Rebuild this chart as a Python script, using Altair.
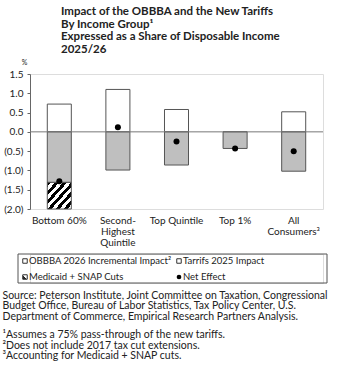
import altair as alt
import pandas as pd

# ---- data ----
categories = ["Bottom 60%", "Second-\nHighest\nQuintile", "Top Quintile", "Top 1%", "All\nConsumers³"]
obbba = [0.72, 1.10, 0.58, 0.00, 0.52]
tariffs = [-1.31, -0.99, -0.86, -0.43, -1.02]
medicaid = [-0.69, 0.0, 0.0, 0.0, 0.0]
net_effect = [-1.28, 0.12, -0.25, -0.43, -0.50]
y_ticks = [-2.0, -1.5, -1.0, -0.5, 0.0, 0.5, 1.0, 1.5]

legend_labels = ["OBBBA 2026 Incremental Impact²", "Tarrifs 2025 Impact", "Medicaid + SNAP Cuts", "Net Effect"]
legend_cols = [0, 1, 0, 1]
legend_rows = [0, 0, 1, 1]
legend_kind = ["obbba", "tariff", "medicaid", "net"]

title_lines = ["Impact of the OBBBA and the New Tariffs", "By Income Group¹",
               "Expressed as a Share of Disposable Income", "2025/26"]
source_lines = ["Source: Peterson Institute, Joint Committee on Taxation, Congressional",
                "Budget Office, Bureau of Labor Statistics, Tax Policy Center, U.S.",
                "Department of Commerce, Empirical Research Partners Analysis."]
footnote_lines = ["¹Assumes a 75% pass-through of the new tariffs.",
                  "²Does not include 2017 tax cut extensions.",
                  "³Accounting for Medicaid + SNAP cuts."]

FONT = "Lato"
TXT = "#222222"

df = pd.DataFrame({
    "cat": categories,
    "obbba": obbba,
    "tariffs": tariffs,
    "medicaid": medicaid,
    "net": net_effect,
})
df["zero"] = 0.0
df["med_lo"] = df["tariffs"] + df["medicaid"]
df_med = df[df["medicaid"] != 0]

N = 6
stops = []
for k in range(N):
    stops += [
        {"offset": k / N, "color": "black"},
        {"offset": (k + 0.5) / N, "color": "black"},
        {"offset": (k + 0.5) / N, "color": "white"},
        {"offset": (k + 1) / N, "color": "white"},
    ]
hatch = {"gradient": "linear", "x1": 0, "y1": 0, "x2": 1, "y2": 1, "stops": stops}

xenc = alt.X("cat:N", sort=categories,
             scale=alt.Scale(paddingInner=0.59, paddingOuter=0.295),
             axis=alt.Axis(title=None, labelAngle=0, domain=False, ticks=False,
                           labelExpr="split(datum.label, '\\n')", labelLineHeight=11,
                           labelPadding=6, labelFontSize=10, labelFont=FONT,
                           labelColor=TXT, labelBaseline="top"))
yscale = alt.Scale(domain=[-2.0, 1.5], nice=False, zero=False)
yaxis = alt.Axis(values=y_ticks,
                 labelExpr="datum.value < 0 ? '(' + format(-datum.value, '.1f') + ')' : format(datum.value, '.1f')",
                 labelOverlap=False, labelFlush=False,
                 grid=False, tickSize=3, tickColor="#666", domainColor="#666",
                 labelFontSize=10, labelFont=FONT, labelColor=TXT, labelPadding=4,
                 title="%", titleAngle=0, titleX=-6, titleY=-12, titleAlign="center",
                 titleBaseline="middle", titleFontSize=7, titleFont=FONT,
                 titleFontWeight="normal", titleColor=TXT)


def yenc(field):
    return alt.Y(field, scale=yscale, axis=yaxis)


base = alt.Chart(df)
b_obbba = base.mark_bar(fill="white", stroke="#555", strokeWidth=1).encode(
    x=xenc, y=yenc("zero:Q"), y2="obbba:Q")
b_tar = base.mark_bar(fill="#bfbfbf", stroke="#555", strokeWidth=1).encode(
    x=xenc, y=yenc("zero:Q"), y2="tariffs:Q")
b_med = alt.Chart(df_med).mark_bar(fill=hatch, stroke="#555", strokeWidth=1).encode(
    x=xenc, y=yenc("tariffs:Q"), y2="med_lo:Q")
zero_rule = alt.Chart(pd.DataFrame({"z": [0.0]})).mark_rule(color="#777", strokeWidth=1).encode(
    y=yenc("z:Q"))
dots = base.mark_circle(color="black", size=36, opacity=1).encode(
    x=xenc, y=yenc("net:Q"))

main = alt.layer(b_obbba, b_tar, b_med, zero_rule, dots).properties(
    width=293, height=135,
    title=alt.TitleParams(title_lines, anchor="start", frame="group", dx=31, fontSize=11.5,
                          font="Lato", fontWeight="bold", color=TXT, lineHeight=12.5,
                          offset=3),
)

leg = pd.DataFrame({"label": legend_labels, "col": legend_cols, "row": legend_rows, "kind": legend_kind})
lx = alt.X("col:Q", scale=alt.Scale(domain=[0, 1], range=[-5, 149]), axis=None)
ly = alt.Y("row:Q", scale=alt.Scale(domain=[0, 1], range=[7, 23]), axis=None)
box = alt.Chart(pd.DataFrame({"b": [0]})).mark_rect(fill=None, stroke="#555", strokeWidth=1).encode(
    x=alt.value(-12), x2=alt.value(297), y=alt.value(0), y2=alt.value(29))
sym_plain = alt.Chart(leg[leg["kind"].isin(["obbba", "tariff"])]).mark_square(
    size=20, fill="white", stroke="#333", strokeWidth=1, opacity=1).encode(x=lx, y=ly)
sym_med = alt.Chart(leg[leg["kind"] == "medicaid"]).mark_square(
    size=20, fill={"gradient": "linear", "x1": 0, "y1": 1, "x2": 1, "y2": 0,
                   "stops": [{"offset": 0, "color": "#222"}, {"offset": 0.5, "color": "#222"},
                             {"offset": 0.5, "color": "white"}, {"offset": 1, "color": "white"}]},
    stroke="#333", strokeWidth=1, opacity=1).encode(x=lx, y=ly)
sym_net = alt.Chart(leg[leg["kind"] == "net"]).mark_circle(size=22, color="black", opacity=1).encode(x=lx, y=ly)
txt = alt.Chart(leg).mark_text(align="left", baseline="middle", dx=4, fontSize=9.5, font=FONT, color=TXT).encode(
    x=lx, y=ly, text="label:N")

legend = alt.layer(box, sym_plain, sym_med, sym_net, txt).properties(
    width=293, height=29,
    title=alt.TitleParams(source_lines, subtitle=footnote_lines, orient="bottom", anchor="start",
                          dx=-15, fontSize=10.5, font=FONT, fontWeight="normal", color=TXT,
                          lineHeight=10.5, subtitleFont=FONT, subtitleFontSize=10.5,
                          subtitleColor=TXT, subtitleLineHeight=10.5, subtitlePadding=8, offset=7),
)

chart = alt.vconcat(main, legend, spacing=5).configure_view(stroke=None).configure(
    padding={"left": 2, "top": 5, "right": 2, "bottom": 2})

chart.save("out.html", embed_options={"renderer": "svg", "actions": False})
